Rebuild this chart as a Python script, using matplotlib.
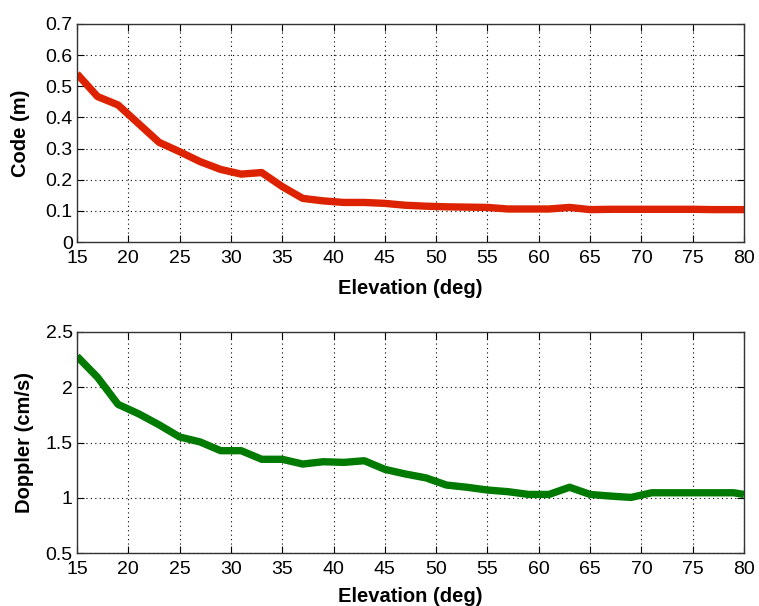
import matplotlib
matplotlib.use("Agg")
import matplotlib.pyplot as plt

elev = [15, 17, 19, 21, 23, 25, 27, 29, 31, 33, 35, 37, 39, 41, 43, 45, 47, 49,
        51, 53, 55, 57, 59, 61, 63, 65, 67, 69, 71, 73, 75, 77, 79, 80]
code_m = [0.54, 0.467, 0.44, 0.38, 0.32, 0.29, 0.258, 0.233, 0.218, 0.223, 0.178, 0.14,
          0.132, 0.127, 0.127, 0.124, 0.118, 0.115, 0.113, 0.112, 0.111, 0.106, 0.106,
          0.106, 0.111, 0.104, 0.105, 0.105, 0.105, 0.105, 0.105, 0.104, 0.104, 0.104]
doppler_cms = [2.28, 2.09, 1.845, 1.76, 1.66, 1.55, 1.505, 1.426, 1.426, 1.348, 1.348,
               1.305, 1.326, 1.32, 1.335, 1.257, 1.215, 1.18, 1.115, 1.095, 1.07, 1.055,
               1.03, 1.03, 1.095, 1.03, 1.015, 1.003, 1.045, 1.045, 1.045, 1.045, 1.045, 1.03]

xticks = list(range(15, 81, 5))
code_yticks = [0, 0.1, 0.2, 0.3, 0.4, 0.5, 0.6, 0.7]
dop_yticks = [0.5, 1, 1.5, 2, 2.5]

plt.rcParams['font.family'] = ['Liberation Sans', 'DejaVu Sans']

fig = plt.figure(figsize=(7.59, 6.06), dpi=100)
ax1 = fig.add_axes([77/759, 1-242/606, 667/759, 218/606])
ax2 = fig.add_axes([77/759, 1-553/606, 667/759, 221/606])

def style(ax, yticks, ylabel, xlabel_y, ylabel_x):
    ax.set_xlim(15, 80)
    ax.set_xticks(xticks)
    ax.set_ylim(yticks[0], yticks[-1])
    ax.set_yticks(yticks)
    ax.set_yticklabels([('%g' % v) for v in yticks])
    ax.grid(True, color='black', linestyle=(0, (1, 3)), linewidth=0.8)
    ax.tick_params(direction='in', top=True, right=True, labelsize=14, length=5,
                   width=0.8)
    ax.tick_params(axis='x', pad=6)
    ax.tick_params(axis='y', pad=3)
    for s in ax.spines.values():
        s.set_linewidth(1.0)
        s.set_color('#333333')
    ax.set_xlabel('Elevation (deg)', fontsize=14.5, fontweight='bold')
    ax.set_ylabel(ylabel, fontsize=14.5, fontweight='bold')
    ax.xaxis.set_label_coords(410/759, 1-xlabel_y/606, transform=fig.transFigure)
    ax.yaxis.set_label_coords(ylabel_x/759, (ax.get_position().y0 + ax.get_position().y1)/2,
                              transform=fig.transFigure)
    ax.xaxis.label.set_va('center')
    ax.yaxis.label.set_va('center')

ax1.plot(elev, code_m, color='#dd2200', linewidth=5.3, solid_capstyle='butt')
style(ax1, code_yticks, 'Code (m)', 288, 21)
ax2.plot(elev, doppler_cms, color='#007a00', linewidth=5.3, solid_capstyle='butt')
style(ax2, dop_yticks, 'Doppler (cm/s)', 597, 25)

fig.savefig('out.png', dpi=100)
